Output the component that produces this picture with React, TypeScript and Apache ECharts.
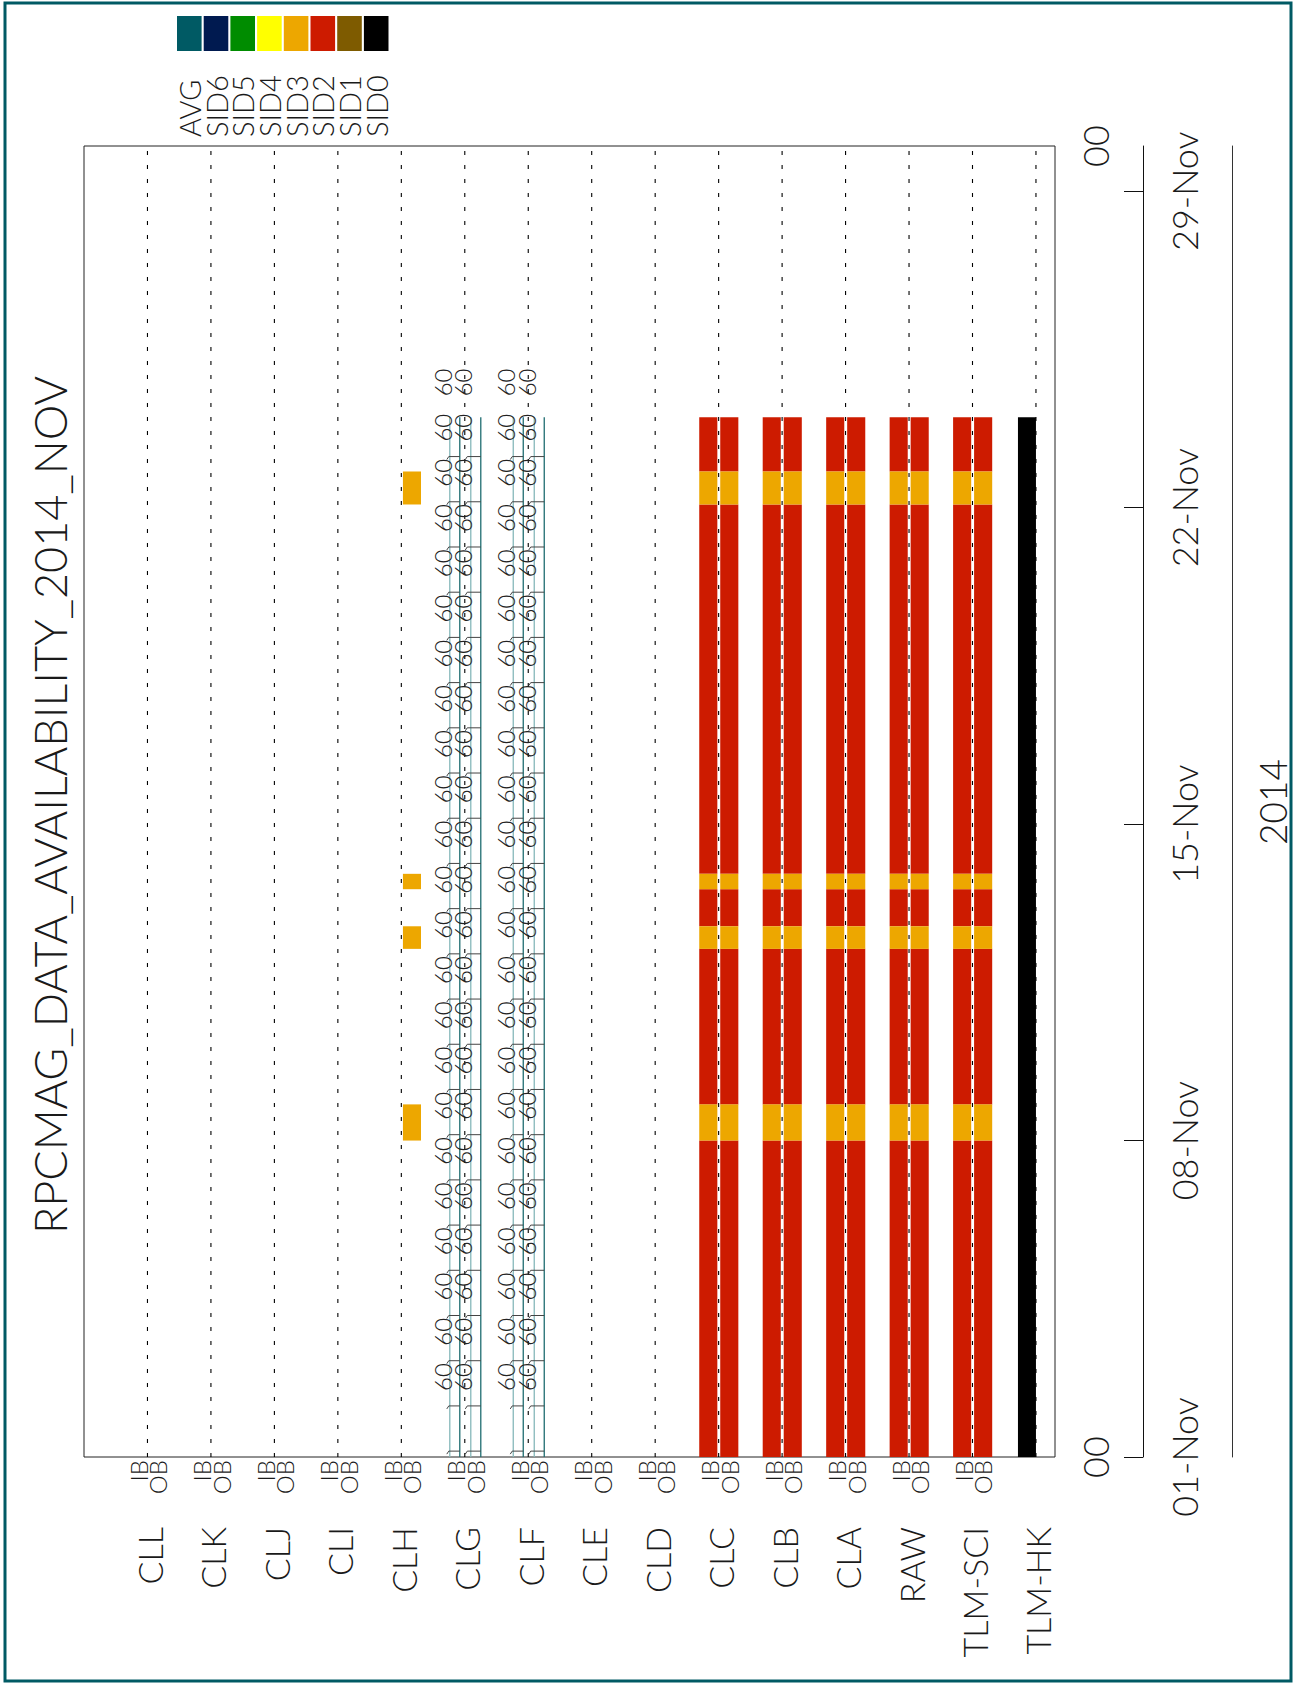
import React, { useEffect, useRef } from 'react';
import * as echarts from 'echarts';

// ---------- data ----------
const chartTitle = 'RPCMAG_DATA_AVAILABILITY_2014_NOV';
const stations = ['CLL', 'CLK', 'CLJ', 'CLI', 'CLH', 'CLG', 'CLF', 'CLE', 'CLD', 'CLC', 'CLB', 'CLA', 'RAW', 'TLM-SCI', 'TLM-HK'];
const ibObStations = ['CLL', 'CLK', 'CLJ', 'CLI', 'CLH', 'CLG', 'CLF', 'CLE', 'CLD', 'CLC', 'CLB', 'CLA', 'RAW', 'TLM-SCI'];
const sideLabels = ['IB', 'OB'];

const sidNames = ['AVG', 'SID6', 'SID5', 'SID4', 'SID3', 'SID2', 'SID1', 'SID0'];
const sidColors = ['#005a64', '#001a50', '#008c00', '#ffff00', '#eda700', '#cd1b00', '#7e5b00', '#000000'];

const dayMin = 0;
const dayMax = 29;
const dateTickDays = [0, 7, 14, 21, 28];
const dateTickLabels = ['01-Nov', '08-Nov', '15-Nov', '22-Nov', '29-Nov'];
const hourTickDays = [0, 29];
const hourTickLabels = ['00', '00'];
const yearLabel = '2014';

// availability spans (days since 01-Nov 00:00)
const fullBarStations = ['CLC', 'CLB', 'CLA', 'RAW', 'TLM-SCI'];
const sid2Spans = [[0, 7.0], [7.8, 11.24], [11.74, 12.56], [12.9, 21.07], [21.8, 23.0]];
const sid3Spans = [[7.0, 7.8], [11.24, 11.74], [12.56, 12.9], [21.07, 21.8]];
const clhObSid3Spans = [[7.0, 7.8], [11.24, 11.74], [12.56, 12.9], [21.07, 21.8]];
const tlmHkSid0Spans = [[0, 23.0]];

// AVG traces for CLG / CLF
const avgStations = ['CLG', 'CLF'];
const avgLineSpan = [0, 23.0];
const avgTickDays = [0.13, 1.13, 2.13, 3.13, 4.13, 5.13, 6.13, 7.13, 8.13, 9.13, 10.13, 11.13, 12.13, 13.13, 14.13, 15.13, 16.13, 17.13, 18.13, 19.13, 20.13, 21.13, 22.13];
const avgLabelDays = [1.77, 2.77, 3.77, 4.77, 5.77, 6.77, 7.77, 8.77, 9.77, 10.77, 11.77, 12.77, 13.77, 14.77, 15.77, 16.77, 17.77, 18.77, 19.77, 20.77, 21.77, 22.77, 23.77];
const clgIbValues = [60, 60, 60, 60, 60, 60, 60, 60, 60, 60, 60, 60, 60, 60, 60, 60, 60, 60, 60, 60, 60, 60, 60];
const clgObValues = [60, 60, 60, 60, 60, 60, 60, 60, 60, 60, 60, 60, 60, 60, 60, 60, 60, 60, 60, 60, 60, 60, 60];
const clfIbValues = [60, 60, 60, 60, 60, 60, 60, 60, 60, 60, 60, 60, 60, 60, 60, 60, 60, 60, 60, 60, 60, 60, 60];
const clfObValues = [60, 60, 60, 60, 60, 60, 60, 60, 60, 60, 60, 60, 60, 60, 60, 60, 60, 60, 60, 60, 60, 60, 60];

// ---------- helpers ----------
const FONT = 'Lato, "Open Sans", sans-serif';
const TXT = '#1a1a1a';
const R90 = Math.PI / 2;
const posOf = (s: string) => stations.indexOf(s) + 1;

function buildBars() {
  const items: number[][] = [];
  fullBarStations.forEach((s) => {
    [0, 1].forEach((side) => {
      sid2Spans.forEach(([a, b]) => items.push([posOf(s), side, a, b, 5]));
      sid3Spans.forEach(([a, b]) => items.push([posOf(s), side, a, b, 4]));
    });
  });
  clhObSid3Spans.forEach(([a, b]) => items.push([posOf('CLH'), 1, a, b, 4]));
  tlmHkSid0Spans.forEach(([a, b]) => items.push([posOf('TLM-HK'), 2, a, b, 7]));
  return items;
}

function buildAvgLabels() {
  const items: number[][] = [];
  const table: [string, number, number[]][] = [
    ['CLG', 0, clgIbValues], ['CLG', 1, clgObValues],
    ['CLF', 0, clfIbValues], ['CLF', 1, clfObValues],
  ];
  table.forEach(([s, side, vals]) => {
    vals.forEach((v, i) => items.push([posOf(s), side, avgLabelDays[i], v]));
  });
  return items;
}

function buildAvgTicks() {
  const items: number[][] = [];
  avgStations.forEach((s) => avgTickDays.forEach((d) => items.push([posOf(s), d])));
  return items;
}

const BAR_OFF: number[][] = [[-19.4, -1.3], [1.6, 19.7], [-18, 0]];

function buildOption(): any {
  const graphics: any[] = [
    {
      type: 'rect', shape: { x: 5, y: 3, width: 1286, height: 1678 },
      style: { fill: 'none', stroke: '#005a64', lineWidth: 3 }, silent: true,
    },
    {
      type: 'text', x: 50, y: 805, rotation: R90,
      style: { text: chartTitle, fontSize: 45, fontFamily: FONT, fontWeight: 300, fill: TXT, align: 'center', verticalAlign: 'middle' },
    },
    {
      type: 'text', x: 1272, y: 802, rotation: R90,
      style: { text: yearLabel, fontSize: 37, fontFamily: FONT, fontWeight: 300, fill: TXT, align: 'center', verticalAlign: 'middle' },
    },
  ];
  sidNames.forEach((n, i) => {
    graphics.push({
      type: 'rect', shape: { x: 177 + 26.7 * i, y: 16, width: 24.6, height: 35 },
      style: { fill: sidColors[i] }, silent: true,
    });
    graphics.push({
      type: 'text', x: 189.3 + 26.7 * i, y: 137, rotation: R90,
      style: { text: n, fontSize: 29, fontFamily: FONT, fontWeight: 300, fill: TXT, align: 'left', verticalAlign: 'middle' },
    });
  });

  return {
    animation: false,
    backgroundColor: '#ffffff',
    grid: { left: 84, top: 146, width: 971, height: 1311, show: true, borderColor: '#222', borderWidth: 1, backgroundColor: 'transparent' },
    xAxis: { type: 'value', min: 0, max: 15.3, show: false },
    yAxis: [
      {
        type: 'value', min: dayMin, max: dayMax, position: 'right', offset: 88,
        axisLine: { show: true, onZero: false, lineStyle: { color: '#111', width: 1 } },
        axisTick: { show: true, inside: true, length: 19, customValues: dateTickDays, lineStyle: { color: '#111', width: 1 } },
        axisLabel: { show: false }, splitLine: { show: false },
      },
      {
        type: 'value', min: dayMin, max: dayMax, position: 'right', offset: 177,
        axisLine: { show: true, onZero: false, lineStyle: { color: '#333', width: 1 } },
        axisTick: { show: false }, axisLabel: { show: false }, splitLine: { show: false },
      },
    ],
    graphic: graphics,
    series: [
      {
        type: 'custom', name: 'bars', silent: true, z: 2,
        data: buildBars(),
        renderItem: (params: any, api: any) => {
          const pos = api.value(0);
          const side = api.value(1);
          const s = api.coord([pos, api.value(2)]);
          const e = api.coord([pos, api.value(3)]);
          const off = BAR_OFF[side];
          return {
            type: 'rect',
            shape: { x: s[0] + off[0], y: e[1], width: off[1] - off[0], height: s[1] - e[1] },
            style: { fill: sidColors[api.value(4)] },
          };
        },
      },
      {
        type: 'custom', name: 'avgLines', silent: true, z: 3,
        data: avgStations.map((s) => [posOf(s), avgLineSpan[0], avgLineSpan[1]]),
        renderItem: (params: any, api: any) => {
          const b = api.coord([api.value(0), api.value(1)]);
          const t = api.coord([api.value(0), api.value(2)]);
          const offs: [number, string][] = [[-15, '#86b8ba'], [-5, '#1f6d71'], [6, '#86b8ba'], [16, '#1f6d71']];
          return {
            type: 'group',
            children: offs.map(([o, c]) => ({
              type: 'line', shape: { x1: b[0] + o, y1: b[1], x2: b[0] + o, y2: t[1] },
              style: { stroke: c, lineWidth: 1.3 },
            })),
          };
        },
      },
      {
        type: 'custom', name: 'avgTicks', silent: true, z: 3,
        data: buildAvgTicks(),
        renderItem: (params: any, api: any) => {
          const p = api.coord([api.value(0), api.value(1)]);
          return {
            type: 'group',
            children: [
              { type: 'polyline', shape: { points: [[p[0] - 18, p[1] + 3], [p[0] - 16, p[1]], [p[0] - 5, p[1]]] }, style: { stroke: '#444', lineWidth: 1, fill: 'none' } },
              { type: 'polyline', shape: { points: [[p[0] + 0.5, p[1] + 3], [p[0] + 2.5, p[1]], [p[0] + 16, p[1]]] }, style: { stroke: '#444', lineWidth: 1, fill: 'none' } },
            ],
          };
        },
      },
      {
        type: 'custom', name: 'dashed', silent: true, z: 4,
        data: stations.map((s, i) => [i + 1]),
        renderItem: (params: any, api: any) => {
          const b = api.coord([api.value(0), dayMin]);
          const t = api.coord([api.value(0), dayMax]);
          return {
            type: 'line', shape: { x1: b[0], y1: b[1], x2: t[0], y2: t[1] },
            style: { stroke: '#000', lineWidth: 1.1, lineDash: [4, 10] },
          };
        },
      },
      {
        type: 'custom', name: 'avgLabels', silent: true, z: 5,
        data: buildAvgLabels(),
        renderItem: (params: any, api: any) => {
          const p = api.coord([api.value(0), api.value(2)]);
          const side = api.value(1);
          return {
            type: 'text', x: p[0] + (side === 0 ? -22.5 : -2), y: p[1], rotation: R90,
            style: { text: String(api.value(3)), fontSize: 24, fontFamily: FONT, fontWeight: 300, fill: '#222', align: 'center', verticalAlign: 'middle' },
          };
        },
      },
      {
        type: 'custom', name: 'stationLabels', silent: true, z: 5,
        data: stations.map((s, i) => [i + 1, i]),
        renderItem: (params: any, api: any) => {
          const i = api.value(1);
          const p = api.coord([api.value(0), dayMin]);
          const name = stations[i];
          const children: any[] = [
            {
              type: 'text', x: p[0] + 2, y: p[1] + 70, rotation: R90,
              style: { text: name, fontSize: 34, fontFamily: FONT, fontWeight: 300, fill: TXT, align: 'right', verticalAlign: 'middle' },
            },
          ];
          if (ibObStations.includes(name)) {
            children.push({
              type: 'text', x: p[0] - 9, y: p[1] + 3, rotation: R90,
              style: { text: sideLabels[0], fontSize: 24, fontFamily: FONT, fontWeight: 300, fill: TXT, align: 'right', verticalAlign: 'middle' },
            });
            children.push({
              type: 'text', x: p[0] + 10.5, y: p[1] + 3, rotation: R90,
              style: { text: sideLabels[1], fontSize: 24, fontFamily: FONT, fontWeight: 300, fill: TXT, align: 'right', verticalAlign: 'middle' },
            });
          }
          return { type: 'group', children };
        },
      },
      {
        type: 'custom', name: 'dateLabels', silent: true, z: 5,
        data: dateTickDays.map((d, i) => [0, d, i]),
        renderItem: (params: any, api: any) => {
          const cs = params.coordSys;
          const p = api.coord([0, api.value(1)]);
          return {
            type: 'text', x: cs.x + cs.width + 129, y: p[1], rotation: R90,
            style: { text: dateTickLabels[api.value(2)], fontSize: 36, fontFamily: FONT, fontWeight: 300, fill: TXT, align: 'center', verticalAlign: 'middle' },
          };
        },
      },
      {
        type: 'custom', name: 'hourLabels', silent: true, z: 5,
        data: hourTickDays.map((d, i) => [0, d, i]),
        renderItem: (params: any, api: any) => {
          const cs = params.coordSys;
          const p = api.coord([0, api.value(1)]);
          return {
            type: 'text', x: cs.x + cs.width + 40, y: p[1], rotation: R90,
            style: { text: hourTickLabels[api.value(2)], fontSize: 36, fontFamily: FONT, fontWeight: 300, fill: TXT, align: 'center', verticalAlign: 'middle' },
          };
        },
      },
    ],
  };
}

export default function App() {
  const ref = useRef<HTMLDivElement>(null);
  useEffect(() => {
    document.body.style.margin = '0';
    const chart = echarts.init(ref.current as HTMLDivElement, undefined, { renderer: 'svg' });
    chart.setOption(buildOption());
    return () => chart.dispose();
  }, []);
  return <div ref={ref} style={{ position: 'absolute', left: 0, top: 0, width: 1301, height: 1683 }} />;
}
